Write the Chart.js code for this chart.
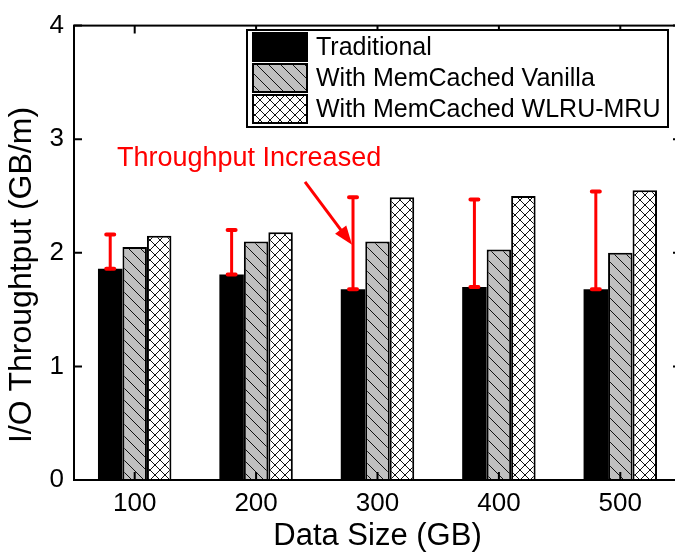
<!DOCTYPE html>
<html>
<head>
<meta charset="utf-8">
<script src="https://cdn.jsdelivr.net/npm/chart.js@4.4.1/dist/chart.umd.min.js"></script>
<style>
  html, body { margin: 0; padding: 0; background: #fff; overflow: hidden; }
  #wrap { width: 690px; height: 556px; position: relative; }
</style>
</head>
<body>
<div id="wrap"><canvas id="ioChart"></canvas></div>
<script>
const tamanhos = ['100', '200', '300', '400', '500'];
const tradicional = [1.86, 1.81, 1.68, 1.70, 1.68];
const vanilla = [2.05, 2.10, 2.10, 2.03, 2.00];
const wlruMru = [2.15, 2.18, 2.49, 2.50, 2.55];
const aumentoTopo = [2.16, 2.20, 2.49, 2.47, 2.54];
const yTicks = [0, 1, 2, 3, 4];

const FONTE = 'Arial, "Liberation Sans", sans-serif';

function padraoDiagonal() {
    const n = 12;
    const c = document.createElement('canvas');
    c.width = n; c.height = n;
    const g = c.getContext('2d');
    g.fillStyle = '#c0c0c0';
    g.fillRect(0, 0, n, n);
    g.strokeStyle = '#111';
    g.lineWidth = 1;
    g.beginPath();
    g.moveTo(-1, -1); g.lineTo(n + 1, n + 1);
    g.moveTo(-1, n - 1); g.lineTo(1, n + 1);
    g.moveTo(n - 1, -1); g.lineTo(n + 1, 1);
    g.stroke();
    return g.createPattern(c, 'repeat');
}

function padraoCruzado() {
    const n = 10;
    const c = document.createElement('canvas');
    c.width = n; c.height = n;
    const g = c.getContext('2d');
    g.fillStyle = '#fff';
    g.fillRect(0, 0, n, n);
    g.strokeStyle = '#111';
    g.lineWidth = 1;
    g.beginPath();
    g.moveTo(-1, -1); g.lineTo(n + 1, n + 1);
    g.moveTo(n + 1, -1); g.lineTo(-1, n + 1);
    g.stroke();
    return g.createPattern(c, 'repeat');
}

const corCinza = padraoDiagonal();
const corCruz = padraoCruzado();

// moldura, ticks para dentro, barras de aumento, seta, legenda e titulo do eixo y
const extras = {
    id: 'extras',
    afterDatasetsDraw(chart) {
        const ctx = chart.ctx;
        const a = chart.chartArea;
        const xs = chart.scales.x;
        const ys = chart.scales.y;
        ctx.save();

        // moldura
        ctx.strokeStyle = '#000';
        ctx.lineWidth = 2;
        ctx.strokeRect(a.left, a.top, a.right - a.left, a.bottom - a.top);

        // ticks internos
        ctx.beginPath();
        yTicks.forEach(v => {
            const y = ys.getPixelForValue(v);
            ctx.moveTo(a.left, y); ctx.lineTo(a.left + 8, y);
            ctx.moveTo(a.right, y); ctx.lineTo(a.right - 8, y);
        });
        tamanhos.forEach((t, i) => {
            const x = xs.getPixelForValue(i);
            ctx.moveTo(x, a.bottom); ctx.lineTo(x, a.bottom - 8);
            ctx.moveTo(x, a.top); ctx.lineTo(x, a.top + 8);
        });
        ctx.stroke();

        // titulo do eixo y
        ctx.save();
        ctx.translate(22, 275);
        ctx.rotate(-Math.PI / 2);
        ctx.fillStyle = '#000';
        ctx.font = '32px ' + FONTE;
        ctx.textAlign = 'center';
        ctx.textBaseline = 'middle';
        ctx.fillText('I/O Throughtput (GB/m)', 0, 0);
        ctx.restore();

        // barras vermelhas de aumento
        const meta = chart.getDatasetMeta(0);
        ctx.strokeStyle = '#ff0000';
        ctx.lineWidth = 3;
        ctx.lineCap = 'round';
        tradicional.forEach((v, i) => {
            const x = meta.data[i].x;
            const y0 = ys.getPixelForValue(v);
            const y1 = ys.getPixelForValue(aumentoTopo[i]);
            ctx.beginPath();
            ctx.moveTo(x, y0); ctx.lineTo(x, y1);
            ctx.stroke();
            ctx.lineWidth = 4;
            ctx.beginPath();
            ctx.moveTo(x - 4, y0); ctx.lineTo(x + 4, y0);
            ctx.moveTo(x - 4, y1); ctx.lineTo(x + 4, y1);
            ctx.stroke();
            ctx.lineWidth = 3;
        });

        // seta e texto
        const px = meta.data[2].x - 1;
        const py = ys.getPixelForValue(2.07);
        const sx = px - 47, sy = py - 63;
        const ang = Math.atan2(py - sy, px - sx);
        ctx.lineCap = 'butt';
        ctx.beginPath();
        ctx.moveTo(sx, sy);
        ctx.lineTo(px - 14 * Math.cos(ang), py - 14 * Math.sin(ang));
        ctx.stroke();
        ctx.fillStyle = '#ff0000';
        ctx.beginPath();
        ctx.moveTo(px, py);
        ctx.lineTo(px - 19 * Math.cos(ang) + 7 * Math.sin(ang), py - 19 * Math.sin(ang) - 7 * Math.cos(ang));
        ctx.lineTo(px - 19 * Math.cos(ang) - 7 * Math.sin(ang), py - 19 * Math.sin(ang) + 7 * Math.cos(ang));
        ctx.closePath();
        ctx.fill();
        ctx.font = '27px ' + FONTE;
        ctx.textAlign = 'left';
        ctx.textBaseline = 'alphabetic';
        ctx.fillText('Throughput Increased', 117, 166);

        // legenda
        const lx = 247, ly = 30, lw = 421, lh = 97;
        ctx.fillStyle = '#fff';
        ctx.fillRect(lx, ly, lw, lh);
        ctx.strokeStyle = '#000';
        ctx.lineWidth = 2;
        ctx.strokeRect(lx, ly, lw, lh);
        ctx.font = '25px ' + FONTE;
        ctx.textBaseline = 'middle';
        chart.data.datasets.forEach((ds, i) => {
            const top = ly + 3 + i * 31;
            ctx.fillStyle = ds.backgroundColor;
            ctx.fillRect(lx + 6, top, 54, 28);
            ctx.lineWidth = 2;
            ctx.strokeStyle = '#000';
            ctx.strokeRect(lx + 6, top, 54, 28);
            ctx.fillStyle = '#000';
            ctx.fillText(ds.label, lx + 69, top + 15);
        });
        ctx.restore();
    }
};

const ctxIO = document.getElementById('ioChart').getContext('2d');
const ioChart = new Chart(ctxIO, {
    type: 'bar',
    data: {
        labels: tamanhos,
        datasets: [
            {
                label: 'Traditional',
                data: tradicional,
                backgroundColor: '#000',
                borderWidth: 0
            },
            {
                label: 'With MemCached Vanilla',
                data: vanilla,
                backgroundColor: corCinza,
                borderColor: '#000',
                borderWidth: 2
            },
            {
                label: 'With MemCached WLRU-MRU',
                data: wlruMru,
                backgroundColor: corCruz,
                borderColor: '#000',
                borderWidth: 2
            }
        ]
    },
    options: {
        responsive: true,
        maintainAspectRatio: false,
        animation: false,
        layout: {
            padding: { top: 16, right: 9, left: 0, bottom: 0 }
        },
        datasets: {
            bar: { barPercentage: 1, categoryPercentage: 0.605 }
        },
        scales: {
            x: {
                grid: { display: false, drawTicks: false },
                border: { display: false },
                ticks: {
                    color: '#000',
                    font: { size: 26, family: FONTE },
                    padding: 8
                },
                title: {
                    display: true,
                    text: 'Data Size (GB)',
                    color: '#000',
                    font: { size: 31, family: FONTE },
                    padding: { top: 0, bottom: 1 }
                },
                afterFit(scale) { scale.height = 76; }
            },
            y: {
                min: 0,
                max: 4,
                grid: { display: false, drawTicks: false },
                border: { display: false },
                ticks: {
                    stepSize: 1,
                    color: '#000',
                    font: { size: 26, family: FONTE },
                    padding: 10
                },
                afterFit(scale) { scale.width = 74; }
            }
        },
        plugins: {
            legend: { display: false },
            tooltip: { enabled: false }
        }
    },
    plugins: [extras]
});
</script>
</body>
</html>
